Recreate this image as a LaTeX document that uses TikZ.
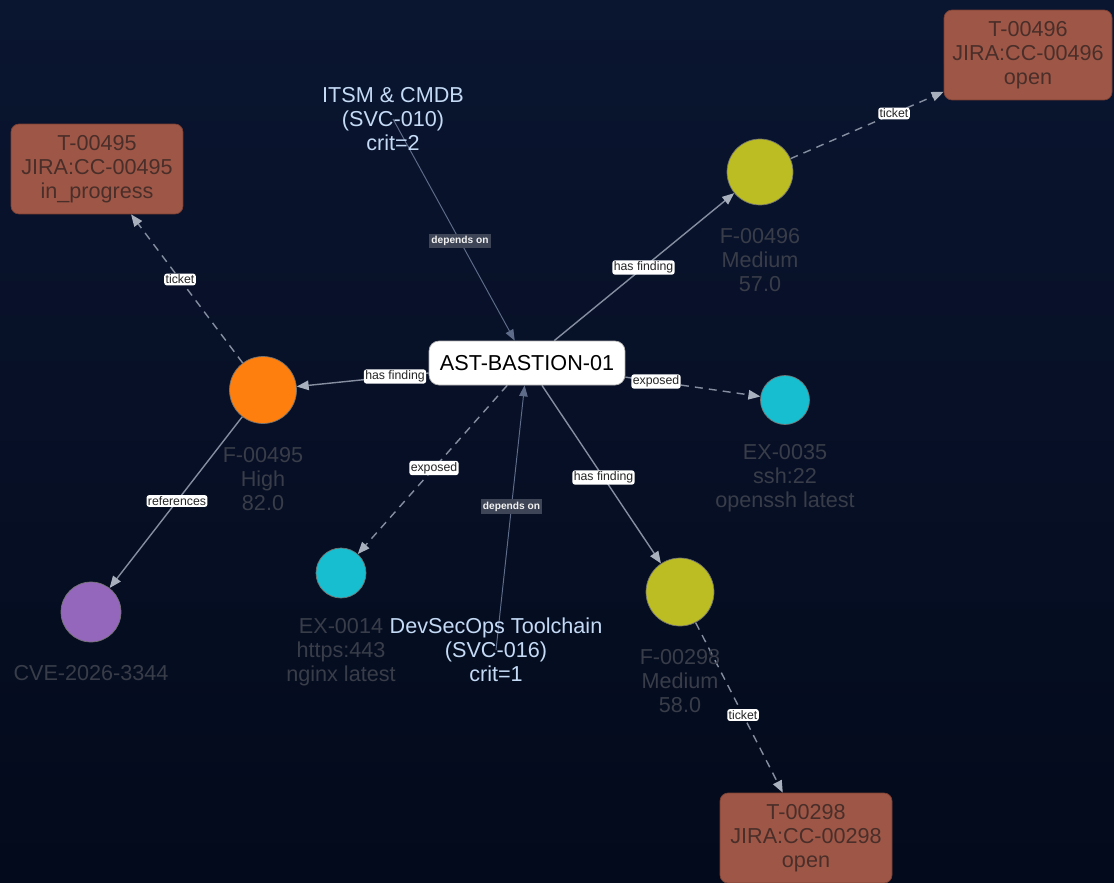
\documentclass[tikz,border=0pt]{standalone}
\usepackage{fontspec}
\setmainfont{Liberation Sans}
\usetikzlibrary{arrows.meta,calc}
\definecolor{bgtop}{HTML}{0A1530}
\definecolor{bgbot}{HTML}{030A1B}
\definecolor{forange}{HTML}{FF7F0E}
\definecolor{fyellow}{HTML}{BCBD22}
\definecolor{fcyan}{HTML}{17BECF}
\definecolor{fpurple}{HTML}{9467BD}
\definecolor{ticketfill}{HTML}{9E5747}
\definecolor{ticketdraw}{HTML}{7A3F33}
\definecolor{tickettext}{HTML}{4A2E29}
\definecolor{dimtext}{HTML}{393D49}
\definecolor{svctext}{HTML}{C4DAF5}
\definecolor{edgec}{HTML}{858EA0}
\definecolor{tipc}{HTML}{A9B0BD}
\definecolor{depc}{HTML}{5E6C89}
\definecolor{lbltext}{HTML}{262626}
\definecolor{deplblfill}{HTML}{3E4556}
\pgfdeclarelayer{bg}
\pgfdeclarelayer{edges}
\pgfsetlayers{bg,edges,main}
\begin{document}
\begin{tikzpicture}[x=0.02cm,y=-0.02cm,
  bigfont/.style={font=\fontsize{12.3}{13.6}\selectfont, align=center},
  dot/.style={circle, draw=black!55, line width=0.4pt, inner sep=0pt},
  dimlbl/.style={bigfont, text=dimtext, inner sep=0pt},
  svc/.style={bigfont, text=svctext, inner sep=0pt},
  ticketbox/.style={rounded corners=0.16cm, fill=ticketfill, draw=ticketdraw, line width=0.4pt,
    minimum width=3.44cm, minimum height=1.8cm, bigfont, text=tickettext},
  asset/.style={rounded corners=0.2cm, fill=white, draw=gray!60, line width=0.4pt,
    minimum width=3.92cm, minimum height=0.88cm, font=\fontsize{12.3}{13.6}\selectfont, text=black},
  edge/.style={draw=edgec, line width=0.8pt},
  arr/.style={-{Triangle[length=2.4mm,width=1.9mm,color=tipc]}},
  dashedge/.style={dash pattern=on 4.5pt off 3.5pt},
  dep/.style={draw=depc, line width=0.55pt, -{Triangle[length=2.2mm,width=1.7mm,color=depc]}},
  elbl/.style={fill=white, rounded corners=1.5pt, inner sep=0.8pt, font=\fontsize{7}{8}\selectfont, text=lbltext},
  deplbl/.style={fill=deplblfill, inner sep=1.3pt, font=\bfseries\fontsize{5.8}{7}\selectfont, text=white!90!gray}
]
\useasboundingbox (0,0) rectangle (1114,882);
\begin{pgfonlayer}{bg}
  \shade[top color=bgtop, bottom color=bgbot] (0,0) rectangle (1114,882);
\end{pgfonlayer}

% nodes
\node[asset] (ast) at (527,363) {AST-BASTION-01};
\node[svc] (itsm) at (393,119) {ITSM \& CMDB\\(SVC-010)\\crit=2};
\node[svc] (devsec) at (496,650) {DevSecOps Toolchain\\(SVC-016)\\crit=1};

\node[dot, fill=forange, minimum size=1.34cm] (f495) at (263,390) {};
\node[dimlbl] (f495t) at (263,479) {F-00495\\High\\82.0};
\node[dot, fill=fyellow, minimum size=1.32cm] (f496) at (760,172) {};
\node[dimlbl] (f496t) at (760,260) {F-00496\\Medium\\57.0};
\node[dot, fill=fyellow, minimum size=1.36cm] (f298) at (680,592) {};
\node[dimlbl] (f298t) at (680,681) {F-00298\\Medium\\58.0};
\node[dot, fill=fcyan, minimum size=0.98cm] (ex35) at (785,400) {};
\node[dimlbl] (ex35t) at (785,478) {EX-0035\\ssh:22\\openssh latest};
\node[dot, fill=fcyan, minimum size=1.0cm] (ex14) at (341,573) {};
\node[dimlbl] (ex14t) at (341,652) {EX-0014\\https:443\\nginx latest};
\node[dot, fill=fpurple, minimum size=1.2cm] (cve) at (91,612) {};
\node[dimlbl] (cvet) at (91,673) {CVE-2026-3344};

\node[ticketbox] (t495) at (97,169) {T-00495\\JIRA:CC-00495\\in\_progress};
\node[ticketbox, minimum width=3.36cm] (t496) at (1028,55) {T-00496\\JIRA:CC-00496\\open};
\node[ticketbox] (t298) at (806,838) {T-00298\\JIRA:CC-00298\\open};

% edges
\begin{pgfonlayer}{edges}
  \draw[edge, arr] (ast) -- (f495);
  \draw[edge, arr] (ast) -- (f496);
  \draw[edge, arr] (ast) -- (f298);
  \draw[edge, arr, dashedge] (ast) -- (ex35);
  \draw[edge, arr, dashedge] (ast) -- (ex14);
  \draw[edge, arr, dashedge] (f495) -- (t495);
  \draw[edge, arr, dashedge] (f496) -- (t496);
  \draw[edge, arr, dashedge] (f298) -- (t298);
  \draw[edge, arr] (f495) -- (cve);
  \draw[dep] (itsm.center) -- (ast);
  \draw[dep] (devsec.center) -- (ast);
\end{pgfonlayer}

% edge labels
\node[elbl] (l1) at ($(ast)!0.5!(f495)$) {has finding};
\node[elbl] (l2) at ($(ast)!0.5!(f496)$) {has finding};
\node[elbl] (l3) at ($(ast)!0.5!(f298)$) {has finding};
\node[elbl] (l4) at ($(ast)!0.5!(ex35)$) {exposed};
\node[elbl] (l5) at ($(ast)!0.5!(ex14)$) {exposed};
\node[elbl] (l6) at ($(f495)!0.5!(t495)$) {ticket};
\node[elbl] (l7) at ($(f496)!0.5!(t496)$) {ticket};
\node[elbl] (l8) at ($(f298)!0.5!(t298)$) {ticket};
\node[elbl] (l9) at ($(f495)!0.5!(cve)$) {references};
\node[deplbl] (l10) at ($(itsm)!0.5!(ast)$) {depends on};
\node[deplbl] (l11) at ($(devsec)!0.5!(ast)$) {depends on};
\end{tikzpicture}
\end{document}
